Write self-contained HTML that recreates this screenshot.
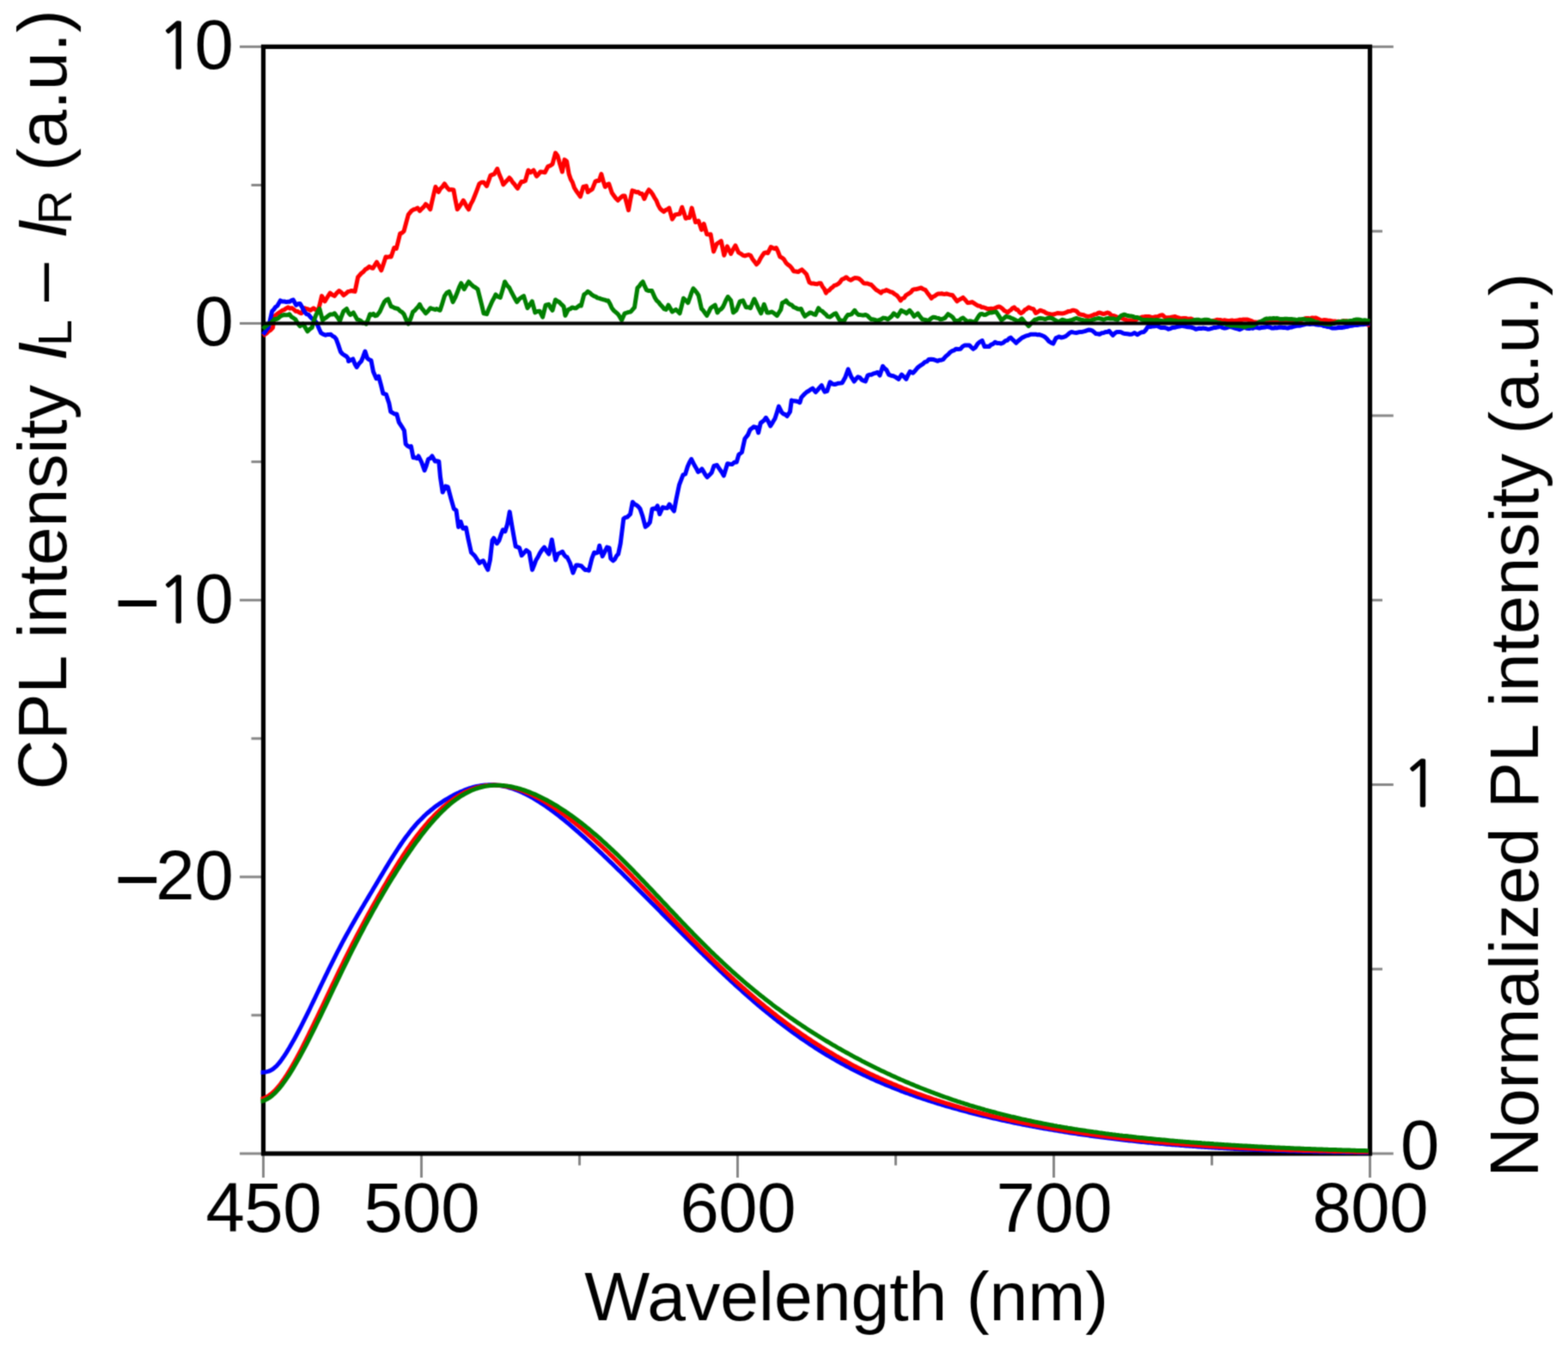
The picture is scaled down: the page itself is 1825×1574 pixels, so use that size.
<!DOCTYPE html>
<html lang="en">
<head>
<meta charset="utf-8">
<title>CPL and PL spectra</title>
<style>
html,body{margin:0;padding:0;background:#fff;}
body{width:1825px;height:1574px;overflow:hidden;}
svg{display:block;}
text{font-family:"Liberation Sans",Arial,Helvetica,sans-serif;font-size:80px;fill:#000;}
.c{fill:none;stroke-width:5.0;stroke-linejoin:round;stroke-linecap:butt;}
.t{stroke:#000;stroke-opacity:0.47;stroke-width:3.0;}
</style>
</head>
<body>
<svg xmlns="http://www.w3.org/2000/svg" width="1825" height="1574" viewBox="0 0 1825 1574">
<defs><filter id="soft" x="0" y="0" width="1825" height="1574" filterUnits="userSpaceOnUse" color-interpolation-filters="sRGB"><feConvolveMatrix order="3" kernelMatrix="1 3 1 3 9 3 1 3 1" divisor="25" edgeMode="duplicate" preserveAlpha="false"/></filter></defs>
<g filter="url(#soft)">
<rect x="0" y="0" width="1825" height="1574" fill="#fff"/>

<g class="t">
<line x1="279.0" y1="1343.0" x2="306.5" y2="1343.0"/>
<line x1="292.5" y1="1181.9" x2="306.5" y2="1181.9"/>
<line x1="279.0" y1="1020.9" x2="306.5" y2="1020.9"/>
<line x1="292.5" y1="859.8" x2="306.5" y2="859.8"/>
<line x1="279.0" y1="698.7" x2="306.5" y2="698.7"/>
<line x1="292.5" y1="537.6" x2="306.5" y2="537.6"/>
<line x1="279.0" y1="376.5" x2="306.5" y2="376.5"/>
<line x1="292.5" y1="215.5" x2="306.5" y2="215.5"/>
<line x1="279.0" y1="54.4" x2="306.5" y2="54.4"/>
<line x1="1594.5" y1="1343.0" x2="1621.8" y2="1343.0"/>
<line x1="1594.5" y1="1128.2" x2="1609.0" y2="1128.2"/>
<line x1="1594.5" y1="913.5" x2="1621.8" y2="913.5"/>
<line x1="1594.5" y1="698.7" x2="1609.0" y2="698.7"/>
<line x1="1594.5" y1="483.9" x2="1621.8" y2="483.9"/>
<line x1="1594.5" y1="269.2" x2="1609.0" y2="269.2"/>
<line x1="1594.5" y1="54.4" x2="1621.8" y2="54.4"/>
<line x1="306.5" y1="1343.0" x2="306.5" y2="1371.0"/>
<line x1="490.5" y1="1343.0" x2="490.5" y2="1371.0"/>
<line x1="674.5" y1="1343.0" x2="674.5" y2="1356.7"/>
<line x1="858.5" y1="1343.0" x2="858.5" y2="1371.0"/>
<line x1="1042.5" y1="1343.0" x2="1042.5" y2="1356.7"/>
<line x1="1226.5" y1="1343.0" x2="1226.5" y2="1371.0"/>
<line x1="1410.5" y1="1343.0" x2="1410.5" y2="1356.7"/>
<line x1="1594.5" y1="1343.0" x2="1594.5" y2="1371.0"/>
</g>
<rect x="306.5" y="54.4" width="1288.0" height="1288.6" fill="none" stroke="#000" stroke-width="5.2"/>
<path class="c" stroke="#0000ff" d="M303.6,1248.4 L304.8,1248.4 L306.8,1248.2 L308.8,1248.0 L310.8,1247.6 L312.8,1247.1 L314.8,1246.2 L316.8,1245.1 L318.8,1243.7 L320.8,1241.9 L322.8,1239.9 L324.8,1237.6 L326.8,1235.1 L328.8,1232.3 L330.8,1229.4 L332.8,1226.3 L334.8,1223.1 L336.8,1219.8 L338.8,1216.3 L340.8,1212.8 L342.8,1209.2 L344.8,1205.5 L346.8,1201.8 L348.8,1198.0 L350.8,1194.1 L352.8,1190.2 L354.8,1186.2 L356.8,1182.2 L358.8,1178.1 L360.8,1174.0 L362.8,1169.8 L364.8,1165.7 L366.8,1161.5 L368.8,1157.3 L370.8,1153.1 L372.8,1148.9 L374.8,1144.7 L376.8,1140.6 L378.8,1136.4 L380.8,1132.3 L382.8,1128.2 L384.8,1124.1 L386.8,1120.1 L388.8,1116.1 L390.8,1112.1 L392.8,1108.2 L394.8,1104.3 L396.8,1100.5 L398.8,1096.7 L400.8,1093.0 L402.8,1089.3 L404.8,1085.7 L406.8,1082.1 L408.8,1078.6 L410.8,1075.0 L412.8,1071.5 L414.8,1068.1 L416.8,1064.6 L418.8,1061.2 L420.8,1057.8 L422.8,1054.5 L424.8,1051.1 L426.8,1047.7 L428.8,1044.4 L430.8,1041.0 L432.8,1037.7 L434.8,1034.3 L436.8,1030.9 L438.8,1027.6 L440.8,1024.2 L442.8,1020.9 L444.8,1017.6 L446.8,1014.2 L448.8,1010.9 L450.8,1007.6 L452.8,1004.3 L454.8,1001.1 L456.8,997.9 L458.8,994.7 L460.8,991.6 L462.8,988.5 L464.8,985.5 L466.8,982.5 L468.8,979.6 L470.8,976.8 L472.8,974.0 L474.8,971.4 L476.8,968.8 L478.8,966.2 L480.8,963.8 L482.8,961.5 L484.8,959.2 L486.8,957.0 L488.8,954.9 L490.8,952.9 L492.8,950.9 L494.8,949.0 L496.8,947.2 L498.8,945.5 L500.8,943.8 L502.8,942.2 L504.8,940.6 L506.8,939.1 L508.8,937.6 L510.8,936.2 L512.8,934.9 L514.8,933.5 L516.8,932.2 L518.8,931.0 L520.8,929.8 L522.8,928.6 L524.8,927.5 L526.8,926.4 L528.8,925.3 L530.8,924.3 L532.8,923.4 L534.8,922.4 L536.8,921.5 L538.8,920.7 L540.8,919.9 L542.8,919.1 L544.8,918.4 L546.8,917.7 L548.8,917.1 L550.8,916.5 L552.8,916.0 L554.8,915.5 L556.8,915.1 L558.8,914.8 L560.8,914.4 L562.8,914.2 L564.8,914.0 L566.8,913.9 L568.8,913.8 L570.8,913.7 L572.8,913.8 L574.8,913.8 L576.8,914.0 L578.8,914.2 L580.8,914.4 L582.8,914.7 L584.8,915.1 L586.8,915.5 L588.8,915.9 L590.8,916.4 L592.8,917.0 L594.8,917.6 L596.8,918.2 L598.8,918.9 L600.8,919.7 L602.8,920.4 L604.8,921.3 L606.8,922.1 L608.8,923.1 L610.8,924.0 L612.8,925.0 L614.8,926.0 L616.8,927.1 L618.8,928.2 L620.8,929.4 L622.8,930.6 L624.8,931.8 L626.8,933.0 L628.8,934.3 L630.8,935.6 L632.8,936.9 L634.8,938.3 L636.8,939.7 L638.8,941.1 L640.8,942.6 L642.8,944.0 L644.8,945.5 L646.8,947.0 L648.8,948.6 L650.8,950.1 L652.8,951.7 L654.8,953.3 L656.8,954.9 L658.8,956.6 L660.8,958.2 L662.8,959.9 L664.8,961.6 L666.8,963.3 L668.8,965.1 L670.8,966.8 L672.8,968.5 L674.8,970.3 L676.8,972.1 L678.8,973.9 L680.8,975.7 L682.8,977.5 L684.8,979.3 L686.8,981.2 L688.8,983.0 L690.8,984.9 L692.8,986.7 L694.8,988.6 L696.8,990.5 L698.8,992.4 L700.8,994.3 L702.8,996.2 L704.8,998.1 L706.8,1000.0 L708.8,1002.0 L710.8,1003.9 L712.8,1005.8 L714.8,1007.8 L716.8,1009.7 L718.8,1011.7 L720.8,1013.6 L722.8,1015.6 L724.8,1017.6 L726.8,1019.6 L728.8,1021.5 L730.8,1023.5 L732.8,1025.5 L734.8,1027.5 L736.8,1029.5 L738.8,1031.5 L740.8,1033.5 L742.8,1035.5 L744.8,1037.5 L746.8,1039.5 L748.8,1041.5 L750.8,1043.5 L752.8,1045.5 L754.8,1047.5 L756.8,1049.5 L758.8,1051.6 L760.8,1053.6 L762.8,1055.6 L764.8,1057.6 L766.8,1059.6 L768.8,1061.6 L770.8,1063.7 L772.8,1065.7 L774.8,1067.7 L776.8,1069.7 L778.8,1071.7 L780.8,1073.7 L782.8,1075.7 L784.8,1077.8 L786.8,1079.8 L788.8,1081.8 L790.8,1083.8 L792.8,1085.8 L794.8,1087.8 L796.8,1089.8 L798.8,1091.8 L800.8,1093.8 L802.8,1095.8 L804.8,1097.8 L806.8,1099.8 L808.8,1101.7 L810.8,1103.7 L812.8,1105.7 L814.8,1107.7 L816.8,1109.6 L818.8,1111.6 L820.8,1113.5 L822.8,1115.5 L824.8,1117.4 L826.8,1119.4 L828.8,1121.3 L830.8,1123.2 L832.8,1125.1 L834.8,1127.0 L836.8,1129.0 L838.8,1130.9 L840.8,1132.7 L842.8,1134.6 L844.8,1136.5 L846.8,1138.4 L848.8,1140.2 L850.8,1142.1 L852.8,1143.9 L854.8,1145.8 L856.8,1147.6 L858.8,1149.4 L860.8,1151.2 L862.8,1153.0 L864.8,1154.8 L866.8,1156.6 L868.8,1158.4 L870.8,1160.1 L872.8,1161.9 L874.8,1163.6 L876.8,1165.3 L878.8,1167.1 L880.8,1168.8 L882.8,1170.5 L884.8,1172.2 L886.8,1173.8 L888.8,1175.5 L890.8,1177.1 L892.8,1178.8 L894.8,1180.4 L896.8,1182.0 L898.8,1183.6 L900.8,1185.2 L902.8,1186.8 L904.8,1188.4 L906.8,1189.9 L908.8,1191.5 L910.8,1193.0 L912.8,1194.5 L914.8,1196.0 L916.8,1197.5 L918.8,1199.0 L920.8,1200.5 L922.8,1202.0 L924.8,1203.4 L926.8,1204.8 L928.8,1206.3 L930.8,1207.7 L932.8,1209.1 L934.8,1210.4 L936.8,1211.8 L938.8,1213.2 L940.8,1214.5 L942.8,1215.9 L944.8,1217.2 L946.8,1218.5 L948.8,1219.8 L950.8,1221.1 L952.8,1222.3 L954.8,1223.6 L956.8,1224.8 L958.8,1226.1 L960.8,1227.3 L962.8,1228.5 L964.8,1229.7 L966.8,1230.9 L968.8,1232.0 L970.8,1233.2 L972.8,1234.4 L974.8,1235.5 L976.8,1236.6 L978.8,1237.7 L980.8,1238.8 L982.8,1239.9 L984.8,1241.0 L986.8,1242.1 L988.8,1243.1 L990.8,1244.2 L992.8,1245.2 L994.8,1246.2 L996.8,1247.2 L998.8,1248.2 L1000.8,1249.2 L1002.8,1250.2 L1004.8,1251.2 L1006.8,1252.1 L1008.8,1253.1 L1010.8,1254.0 L1012.8,1254.9 L1014.8,1255.9 L1016.8,1256.8 L1018.8,1257.7 L1020.8,1258.6 L1022.8,1259.4 L1024.8,1260.3 L1026.8,1261.2 L1028.8,1262.0 L1030.8,1262.9 L1032.8,1263.7 L1034.8,1264.5 L1036.8,1265.3 L1038.8,1266.2 L1040.8,1266.9 L1042.8,1267.7 L1044.8,1268.5 L1046.8,1269.3 L1048.8,1270.1 L1050.8,1270.8 L1052.8,1271.6 L1054.8,1272.3 L1056.8,1273.0 L1058.8,1273.8 L1060.8,1274.5 L1062.8,1275.2 L1064.8,1275.9 L1066.8,1276.6 L1068.8,1277.3 L1070.8,1278.0 L1072.8,1278.7 L1074.8,1279.3 L1076.8,1280.0 L1078.8,1280.7 L1080.8,1281.3 L1082.8,1281.9 L1084.8,1282.6 L1086.8,1283.2 L1088.8,1283.8 L1090.8,1284.5 L1092.8,1285.1 L1094.8,1285.7 L1096.8,1286.3 L1098.8,1286.9 L1100.8,1287.5 L1102.8,1288.1 L1104.8,1288.6 L1106.8,1289.2 L1108.8,1289.8 L1110.8,1290.3 L1112.8,1290.9 L1114.8,1291.4 L1116.8,1292.0 L1118.8,1292.5 L1120.8,1293.1 L1122.8,1293.6 L1124.8,1294.1 L1126.8,1294.7 L1128.8,1295.2 L1130.8,1295.7 L1132.8,1296.2 L1134.8,1296.7 L1136.8,1297.2 L1138.8,1297.7 L1140.8,1298.2 L1142.8,1298.7 L1144.8,1299.2 L1146.8,1299.6 L1148.8,1300.1 L1150.8,1300.6 L1152.8,1301.0 L1154.8,1301.5 L1156.8,1302.0 L1158.8,1302.4 L1160.8,1302.9 L1162.8,1303.3 L1164.8,1303.8 L1166.8,1304.2 L1168.8,1304.6 L1170.8,1305.1 L1172.8,1305.5 L1174.8,1305.9 L1176.8,1306.3 L1178.8,1306.8 L1180.8,1307.2 L1182.8,1307.6 L1184.8,1308.0 L1186.8,1308.4 L1188.8,1308.8 L1190.8,1309.2 L1192.8,1309.6 L1194.8,1310.0 L1196.8,1310.3 L1198.8,1310.7 L1200.8,1311.1 L1202.8,1311.5 L1204.8,1311.9 L1206.8,1312.2 L1208.8,1312.6 L1210.8,1313.0 L1212.8,1313.3 L1214.8,1313.7 L1216.8,1314.0 L1218.8,1314.4 L1220.8,1314.7 L1222.8,1315.1 L1224.8,1315.4 L1226.8,1315.7 L1228.8,1316.1 L1230.8,1316.4 L1232.8,1316.7 L1234.8,1317.1 L1236.8,1317.4 L1238.8,1317.7 L1240.8,1318.0 L1242.8,1318.3 L1244.8,1318.7 L1246.8,1319.0 L1248.8,1319.3 L1250.8,1319.6 L1252.8,1319.9 L1254.8,1320.2 L1256.8,1320.5 L1258.8,1320.8 L1260.8,1321.1 L1262.8,1321.3 L1264.8,1321.6 L1266.8,1321.9 L1268.8,1322.2 L1270.8,1322.5 L1272.8,1322.7 L1274.8,1323.0 L1276.8,1323.3 L1278.8,1323.5 L1280.8,1323.8 L1282.8,1324.1 L1284.8,1324.3 L1286.8,1324.6 L1288.8,1324.8 L1290.8,1325.1 L1292.8,1325.3 L1294.8,1325.6 L1296.8,1325.8 L1298.8,1326.1 L1300.8,1326.3 L1302.8,1326.5 L1304.8,1326.8 L1306.8,1327.0 L1308.8,1327.2 L1310.8,1327.4 L1312.8,1327.7 L1314.8,1327.9 L1316.8,1328.1 L1318.8,1328.3 L1320.8,1328.5 L1322.8,1328.7 L1324.8,1329.0 L1326.8,1329.2 L1328.8,1329.4 L1330.8,1329.6 L1332.8,1329.8 L1334.8,1330.0 L1336.8,1330.2 L1338.8,1330.3 L1340.8,1330.5 L1342.8,1330.7 L1344.8,1330.9 L1346.8,1331.1 L1348.8,1331.3 L1350.8,1331.5 L1352.8,1331.6 L1354.8,1331.8 L1356.8,1332.0 L1358.8,1332.2 L1360.8,1332.3 L1362.8,1332.5 L1364.8,1332.7 L1366.8,1332.8 L1368.8,1333.0 L1370.8,1333.1 L1372.8,1333.3 L1374.8,1333.5 L1376.8,1333.6 L1378.8,1333.8 L1380.8,1333.9 L1382.8,1334.1 L1384.8,1334.2 L1386.8,1334.3 L1388.8,1334.5 L1390.8,1334.6 L1392.8,1334.8 L1394.8,1334.9 L1396.8,1335.0 L1398.8,1335.2 L1400.8,1335.3 L1402.8,1335.4 L1404.8,1335.6 L1406.8,1335.7 L1408.8,1335.8 L1410.8,1335.9 L1412.8,1336.0 L1414.8,1336.2 L1416.8,1336.3 L1418.8,1336.4 L1420.8,1336.5 L1422.8,1336.6 L1424.8,1336.7 L1426.8,1336.8 L1428.8,1337.0 L1430.8,1337.1 L1432.8,1337.2 L1434.8,1337.3 L1436.8,1337.4 L1438.8,1337.5 L1440.8,1337.6 L1442.8,1337.7 L1444.8,1337.8 L1446.8,1337.9 L1448.8,1337.9 L1450.8,1338.0 L1452.8,1338.1 L1454.8,1338.2 L1456.8,1338.3 L1458.8,1338.4 L1460.8,1338.5 L1462.8,1338.6 L1464.8,1338.6 L1466.8,1338.7 L1468.8,1338.8 L1470.8,1338.9 L1472.8,1339.0 L1474.8,1339.0 L1476.8,1339.1 L1478.8,1339.2 L1480.8,1339.3 L1482.8,1339.3 L1484.8,1339.4 L1486.8,1339.5 L1488.8,1339.5 L1490.8,1339.6 L1492.8,1339.7 L1494.8,1339.7 L1496.8,1339.8 L1498.8,1339.9 L1500.8,1339.9 L1502.8,1340.0 L1504.8,1340.0 L1506.8,1340.1 L1508.8,1340.2 L1510.8,1340.2 L1512.8,1340.3 L1514.8,1340.3 L1516.8,1340.4 L1518.8,1340.4 L1520.8,1340.5 L1522.8,1340.5 L1524.8,1340.6 L1526.8,1340.6 L1528.8,1340.7 L1530.8,1340.7 L1532.8,1340.8 L1534.8,1340.8 L1536.8,1340.9 L1538.8,1340.9 L1540.8,1340.9 L1542.8,1341.0 L1544.8,1341.0 L1546.8,1341.1 L1548.8,1341.1 L1550.8,1341.2 L1552.8,1341.2 L1554.8,1341.2 L1556.8,1341.3 L1558.8,1341.3 L1560.8,1341.3 L1562.8,1341.4 L1564.8,1341.4 L1566.8,1341.4 L1568.8,1341.5 L1570.8,1341.5 L1572.8,1341.5 L1574.8,1341.6 L1576.8,1341.6 L1578.8,1341.6 L1580.8,1341.7 L1582.8,1341.7 L1584.8,1341.7 L1586.8,1341.7 L1588.8,1341.8 L1590.8,1341.8 L1592.8,1341.8"/>
<path class="c" stroke="#ff0000" d="M303.6,1279.5 L304.8,1279.4 L306.8,1278.7 L308.8,1277.9 L310.8,1276.8 L312.8,1275.6 L314.8,1274.1 L316.8,1272.5 L318.8,1270.7 L320.8,1268.6 L322.8,1266.4 L324.8,1264.0 L326.8,1261.5 L328.8,1258.8 L330.8,1256.0 L332.8,1253.0 L334.8,1249.8 L336.8,1246.6 L338.8,1243.2 L340.8,1239.8 L342.8,1236.3 L344.8,1232.6 L346.8,1228.9 L348.8,1225.1 L350.8,1221.3 L352.8,1217.4 L354.8,1213.4 L356.8,1209.4 L358.8,1205.3 L360.8,1201.2 L362.8,1197.2 L364.8,1193.1 L366.8,1188.9 L368.8,1184.8 L370.8,1180.6 L372.8,1176.4 L374.8,1172.2 L376.8,1168.0 L378.8,1163.7 L380.8,1159.5 L382.8,1155.3 L384.8,1151.1 L386.8,1146.9 L388.8,1142.7 L390.8,1138.5 L392.8,1134.3 L394.8,1130.2 L396.8,1126.0 L398.8,1122.0 L400.8,1117.9 L402.8,1113.8 L404.8,1109.8 L406.8,1105.8 L408.8,1101.9 L410.8,1098.0 L412.8,1094.1 L414.8,1090.2 L416.8,1086.4 L418.8,1082.6 L420.8,1078.8 L422.8,1075.1 L424.8,1071.4 L426.8,1067.7 L428.8,1064.0 L430.8,1060.4 L432.8,1056.8 L434.8,1053.2 L436.8,1049.7 L438.8,1046.1 L440.8,1042.6 L442.8,1039.2 L444.8,1035.7 L446.8,1032.3 L448.8,1028.9 L450.8,1025.5 L452.8,1022.1 L454.8,1018.8 L456.8,1015.5 L458.8,1012.2 L460.8,1009.0 L462.8,1005.8 L464.8,1002.6 L466.8,999.5 L468.8,996.4 L470.8,993.4 L472.8,990.4 L474.8,987.4 L476.8,984.6 L478.8,981.7 L480.8,979.0 L482.8,976.2 L484.8,973.6 L486.8,971.0 L488.8,968.4 L490.8,965.9 L492.8,963.5 L494.8,961.1 L496.8,958.8 L498.8,956.5 L500.8,954.3 L502.8,952.2 L504.8,950.1 L506.8,948.1 L508.8,946.1 L510.8,944.2 L512.8,942.3 L514.8,940.5 L516.8,938.8 L518.8,937.1 L520.8,935.5 L522.8,934.0 L524.8,932.5 L526.8,931.0 L528.8,929.6 L530.8,928.3 L532.8,927.0 L534.8,925.8 L536.8,924.7 L538.8,923.6 L540.8,922.5 L542.8,921.6 L544.8,920.7 L546.8,919.8 L548.8,919.0 L550.8,918.3 L552.8,917.6 L554.8,917.0 L556.8,916.5 L558.8,916.0 L560.8,915.5 L562.8,915.2 L564.8,914.8 L566.8,914.6 L568.8,914.4 L570.8,914.2 L572.8,914.1 L574.8,914.1 L576.8,914.1 L578.8,914.2 L580.8,914.3 L582.8,914.5 L584.8,914.7 L586.8,915.0 L588.8,915.3 L590.8,915.7 L592.8,916.1 L594.8,916.5 L596.8,917.0 L598.8,917.6 L600.8,918.2 L602.8,918.8 L604.8,919.5 L606.8,920.2 L608.8,921.0 L610.8,921.7 L612.8,922.6 L614.8,923.4 L616.8,924.3 L618.8,925.3 L620.8,926.2 L622.8,927.2 L624.8,928.3 L626.8,929.3 L628.8,930.4 L630.8,931.5 L632.8,932.7 L634.8,933.9 L636.8,935.1 L638.8,936.3 L640.8,937.6 L642.8,938.9 L644.8,940.2 L646.8,941.5 L648.8,942.9 L650.8,944.3 L652.8,945.7 L654.8,947.1 L656.8,948.6 L658.8,950.1 L660.8,951.6 L662.8,953.1 L664.8,954.7 L666.8,956.3 L668.8,957.9 L670.8,959.5 L672.8,961.1 L674.8,962.8 L676.8,964.4 L678.8,966.1 L680.8,967.8 L682.8,969.6 L684.8,971.3 L686.8,973.1 L688.8,974.9 L690.8,976.7 L692.8,978.5 L694.8,980.3 L696.8,982.1 L698.8,984.0 L700.8,985.8 L702.8,987.7 L704.8,989.6 L706.8,991.5 L708.8,993.4 L710.8,995.4 L712.8,997.3 L714.8,999.3 L716.8,1001.2 L718.8,1003.2 L720.8,1005.2 L722.8,1007.2 L724.8,1009.2 L726.8,1011.2 L728.8,1013.2 L730.8,1015.2 L732.8,1017.3 L734.8,1019.3 L736.8,1021.4 L738.8,1023.4 L740.8,1025.5 L742.8,1027.5 L744.8,1029.6 L746.8,1031.7 L748.8,1033.8 L750.8,1035.9 L752.8,1038.0 L754.8,1040.0 L756.8,1042.1 L758.8,1044.2 L760.8,1046.3 L762.8,1048.4 L764.8,1050.5 L766.8,1052.6 L768.8,1054.7 L770.8,1056.8 L772.8,1058.9 L774.8,1061.0 L776.8,1063.1 L778.8,1065.2 L780.8,1067.3 L782.8,1069.4 L784.8,1071.5 L786.8,1073.6 L788.8,1075.7 L790.8,1077.8 L792.8,1079.8 L794.8,1081.9 L796.8,1084.0 L798.8,1086.1 L800.8,1088.1 L802.8,1090.2 L804.8,1092.2 L806.8,1094.3 L808.8,1096.3 L810.8,1098.3 L812.8,1100.3 L814.8,1102.4 L816.8,1104.4 L818.8,1106.4 L820.8,1108.4 L822.8,1110.4 L824.8,1112.3 L826.8,1114.3 L828.8,1116.3 L830.8,1118.2 L832.8,1120.2 L834.8,1122.1 L836.8,1124.1 L838.8,1126.0 L840.8,1127.9 L842.8,1129.8 L844.8,1131.7 L846.8,1133.6 L848.8,1135.4 L850.8,1137.3 L852.8,1139.1 L854.8,1141.0 L856.8,1142.8 L858.8,1144.6 L860.8,1146.4 L862.8,1148.2 L864.8,1150.0 L866.8,1151.7 L868.8,1153.5 L870.8,1155.2 L872.8,1157.0 L874.8,1158.7 L876.8,1160.4 L878.8,1162.1 L880.8,1163.8 L882.8,1165.5 L884.8,1167.1 L886.8,1168.8 L888.8,1170.4 L890.8,1172.1 L892.8,1173.7 L894.8,1175.3 L896.8,1176.9 L898.8,1178.5 L900.8,1180.1 L902.8,1181.6 L904.8,1183.2 L906.8,1184.7 L908.8,1186.2 L910.8,1187.8 L912.8,1189.3 L914.8,1190.8 L916.8,1192.2 L918.8,1193.7 L920.8,1195.2 L922.8,1196.6 L924.8,1198.1 L926.8,1199.5 L928.8,1200.9 L930.8,1202.3 L932.8,1203.7 L934.8,1205.1 L936.8,1206.4 L938.8,1207.8 L940.8,1209.1 L942.8,1210.4 L944.8,1211.8 L946.8,1213.1 L948.8,1214.4 L950.8,1215.7 L952.8,1216.9 L954.8,1218.2 L956.8,1219.5 L958.8,1220.7 L960.8,1221.9 L962.8,1223.1 L964.8,1224.4 L966.8,1225.5 L968.8,1226.7 L970.8,1227.9 L972.8,1229.1 L974.8,1230.2 L976.8,1231.4 L978.8,1232.5 L980.8,1233.6 L982.8,1234.7 L984.8,1235.8 L986.8,1236.9 L988.8,1238.0 L990.8,1239.1 L992.8,1240.2 L994.8,1241.2 L996.8,1242.3 L998.8,1243.3 L1000.8,1244.3 L1002.8,1245.3 L1004.8,1246.3 L1006.8,1247.3 L1008.8,1248.2 L1010.8,1249.2 L1012.8,1250.2 L1014.8,1251.1 L1016.8,1252.0 L1018.8,1253.0 L1020.8,1253.9 L1022.8,1254.8 L1024.8,1255.7 L1026.8,1256.6 L1028.8,1257.5 L1030.8,1258.4 L1032.8,1259.2 L1034.8,1260.1 L1036.8,1260.9 L1038.8,1261.8 L1040.8,1262.6 L1042.8,1263.4 L1044.8,1264.3 L1046.8,1265.1 L1048.8,1265.9 L1050.8,1266.7 L1052.8,1267.5 L1054.8,1268.2 L1056.8,1269.0 L1058.8,1269.8 L1060.8,1270.5 L1062.8,1271.3 L1064.8,1272.0 L1066.8,1272.8 L1068.8,1273.5 L1070.8,1274.2 L1072.8,1274.9 L1074.8,1275.6 L1076.8,1276.3 L1078.8,1277.0 L1080.8,1277.7 L1082.8,1278.4 L1084.8,1279.1 L1086.8,1279.8 L1088.8,1280.4 L1090.8,1281.1 L1092.8,1281.7 L1094.8,1282.4 L1096.8,1283.0 L1098.8,1283.7 L1100.8,1284.3 L1102.8,1284.9 L1104.8,1285.5 L1106.8,1286.1 L1108.8,1286.7 L1110.8,1287.3 L1112.8,1287.9 L1114.8,1288.5 L1116.8,1289.1 L1118.8,1289.7 L1120.8,1290.2 L1122.8,1290.8 L1124.8,1291.4 L1126.8,1291.9 L1128.8,1292.5 L1130.8,1293.0 L1132.8,1293.6 L1134.8,1294.1 L1136.8,1294.6 L1138.8,1295.2 L1140.8,1295.7 L1142.8,1296.2 L1144.8,1296.7 L1146.8,1297.2 L1148.8,1297.7 L1150.8,1298.2 L1152.8,1298.7 L1154.8,1299.2 L1156.8,1299.7 L1158.8,1300.1 L1160.8,1300.6 L1162.8,1301.1 L1164.8,1301.6 L1166.8,1302.0 L1168.8,1302.5 L1170.8,1302.9 L1172.8,1303.4 L1174.8,1303.8 L1176.8,1304.3 L1178.8,1304.7 L1180.8,1305.1 L1182.8,1305.6 L1184.8,1306.0 L1186.8,1306.4 L1188.8,1306.8 L1190.8,1307.2 L1192.8,1307.6 L1194.8,1308.0 L1196.8,1308.4 L1198.8,1308.8 L1200.8,1309.2 L1202.8,1309.6 L1204.8,1310.0 L1206.8,1310.4 L1208.8,1310.8 L1210.8,1311.1 L1212.8,1311.5 L1214.8,1311.9 L1216.8,1312.3 L1218.8,1312.6 L1220.8,1313.0 L1222.8,1313.3 L1224.8,1313.7 L1226.8,1314.0 L1228.8,1314.4 L1230.8,1314.7 L1232.8,1315.0 L1234.8,1315.4 L1236.8,1315.7 L1238.8,1316.0 L1240.8,1316.4 L1242.8,1316.7 L1244.8,1317.0 L1246.8,1317.3 L1248.8,1317.6 L1250.8,1317.9 L1252.8,1318.2 L1254.8,1318.5 L1256.8,1318.8 L1258.8,1319.1 L1260.8,1319.4 L1262.8,1319.7 L1264.8,1320.0 L1266.8,1320.3 L1268.8,1320.6 L1270.8,1320.9 L1272.8,1321.1 L1274.8,1321.4 L1276.8,1321.7 L1278.8,1322.0 L1280.8,1322.2 L1282.8,1322.5 L1284.8,1322.7 L1286.8,1323.0 L1288.8,1323.3 L1290.8,1323.5 L1292.8,1323.8 L1294.8,1324.0 L1296.8,1324.3 L1298.8,1324.5 L1300.8,1324.7 L1302.8,1325.0 L1304.8,1325.2 L1306.8,1325.4 L1308.8,1325.7 L1310.8,1325.9 L1312.8,1326.1 L1314.8,1326.3 L1316.8,1326.6 L1318.8,1326.8 L1320.8,1327.0 L1322.8,1327.2 L1324.8,1327.4 L1326.8,1327.6 L1328.8,1327.8 L1330.8,1328.0 L1332.8,1328.2 L1334.8,1328.4 L1336.8,1328.6 L1338.8,1328.8 L1340.8,1329.0 L1342.8,1329.2 L1344.8,1329.4 L1346.8,1329.6 L1348.8,1329.8 L1350.8,1330.0 L1352.8,1330.1 L1354.8,1330.3 L1356.8,1330.5 L1358.8,1330.7 L1360.8,1330.8 L1362.8,1331.0 L1364.8,1331.2 L1366.8,1331.3 L1368.8,1331.5 L1370.8,1331.7 L1372.8,1331.8 L1374.8,1332.0 L1376.8,1332.2 L1378.8,1332.3 L1380.8,1332.5 L1382.8,1332.6 L1384.8,1332.8 L1386.8,1332.9 L1388.8,1333.1 L1390.8,1333.2 L1392.8,1333.3 L1394.8,1333.5 L1396.8,1333.6 L1398.8,1333.8 L1400.8,1333.9 L1402.8,1334.0 L1404.8,1334.2 L1406.8,1334.3 L1408.8,1334.4 L1410.8,1334.5 L1412.8,1334.7 L1414.8,1334.8 L1416.8,1334.9 L1418.8,1335.0 L1420.8,1335.2 L1422.8,1335.3 L1424.8,1335.4 L1426.8,1335.5 L1428.8,1335.6 L1430.8,1335.7 L1432.8,1335.9 L1434.8,1336.0 L1436.8,1336.1 L1438.8,1336.2 L1440.8,1336.3 L1442.8,1336.4 L1444.8,1336.5 L1446.8,1336.6 L1448.8,1336.7 L1450.8,1336.8 L1452.8,1336.9 L1454.8,1337.0 L1456.8,1337.1 L1458.8,1337.2 L1460.8,1337.3 L1462.8,1337.4 L1464.8,1337.4 L1466.8,1337.5 L1468.8,1337.6 L1470.8,1337.7 L1472.8,1337.8 L1474.8,1337.9 L1476.8,1338.0 L1478.8,1338.0 L1480.8,1338.1 L1482.8,1338.2 L1484.8,1338.3 L1486.8,1338.4 L1488.8,1338.4 L1490.8,1338.5 L1492.8,1338.6 L1494.8,1338.6 L1496.8,1338.7 L1498.8,1338.8 L1500.8,1338.9 L1502.8,1338.9 L1504.8,1339.0 L1506.8,1339.1 L1508.8,1339.1 L1510.8,1339.2 L1512.8,1339.3 L1514.8,1339.3 L1516.8,1339.4 L1518.8,1339.4 L1520.8,1339.5 L1522.8,1339.6 L1524.8,1339.6 L1526.8,1339.7 L1528.8,1339.7 L1530.8,1339.8 L1532.8,1339.8 L1534.8,1339.9 L1536.8,1340.0 L1538.8,1340.0 L1540.8,1340.1 L1542.8,1340.1 L1544.8,1340.2 L1546.8,1340.2 L1548.8,1340.3 L1550.8,1340.3 L1552.8,1340.4 L1554.8,1340.4 L1556.8,1340.4 L1558.8,1340.5 L1560.8,1340.5 L1562.8,1340.6 L1564.8,1340.6 L1566.8,1340.7 L1568.8,1340.7 L1570.8,1340.7 L1572.8,1340.8 L1574.8,1340.8 L1576.8,1340.9 L1578.8,1340.9 L1580.8,1340.9 L1582.8,1341.0 L1584.8,1341.0 L1586.8,1341.1 L1588.8,1341.1 L1590.8,1341.1 L1592.8,1341.2"/>
<path class="c" stroke="#008000" d="M303.6,1282.0 L304.8,1282.0 L306.8,1281.4 L308.8,1280.6 L310.8,1279.6 L312.8,1278.4 L314.8,1277.1 L316.8,1275.5 L318.8,1273.7 L320.8,1271.7 L322.8,1269.6 L324.8,1267.4 L326.8,1264.9 L328.8,1262.4 L330.8,1259.6 L332.8,1256.8 L334.8,1253.9 L336.8,1250.8 L338.8,1247.6 L340.8,1244.4 L342.8,1241.0 L344.8,1237.6 L346.8,1234.1 L348.8,1230.5 L350.8,1226.8 L352.8,1223.1 L354.8,1219.3 L356.8,1215.5 L358.8,1211.6 L360.8,1207.6 L362.8,1203.7 L364.8,1199.6 L366.8,1195.6 L368.8,1191.5 L370.8,1187.4 L372.8,1183.3 L374.8,1179.1 L376.8,1174.9 L378.8,1170.8 L380.8,1166.6 L382.8,1162.4 L384.8,1158.2 L386.8,1154.0 L388.8,1149.8 L390.8,1145.6 L392.8,1141.4 L394.8,1137.3 L396.8,1133.1 L398.8,1129.0 L400.8,1124.9 L402.8,1120.8 L404.8,1116.8 L406.8,1112.7 L408.8,1108.7 L410.8,1104.7 L412.8,1100.8 L414.8,1096.9 L416.8,1093.0 L418.8,1089.1 L420.8,1085.3 L422.8,1081.5 L424.8,1077.7 L426.8,1074.0 L428.8,1070.3 L430.8,1066.7 L432.8,1063.0 L434.8,1059.4 L436.8,1055.9 L438.8,1052.3 L440.8,1048.8 L442.8,1045.4 L444.8,1041.9 L446.8,1038.5 L448.8,1035.2 L450.8,1031.8 L452.8,1028.5 L454.8,1025.2 L456.8,1022.0 L458.8,1018.8 L460.8,1015.6 L462.8,1012.5 L464.8,1009.3 L466.8,1006.2 L468.8,1003.2 L470.8,1000.2 L472.8,997.2 L474.8,994.3 L476.8,991.3 L478.8,988.5 L480.8,985.6 L482.8,982.8 L484.8,980.1 L486.8,977.4 L488.8,974.7 L490.8,972.1 L492.8,969.5 L494.8,967.0 L496.8,964.5 L498.8,962.0 L500.8,959.7 L502.8,957.3 L504.8,955.0 L506.8,952.8 L508.8,950.7 L510.8,948.5 L512.8,946.5 L514.8,944.5 L516.8,942.6 L518.8,940.7 L520.8,938.9 L522.8,937.1 L524.8,935.4 L526.8,933.8 L528.8,932.3 L530.8,930.8 L532.8,929.4 L534.8,928.0 L536.8,926.7 L538.8,925.5 L540.8,924.3 L542.8,923.2 L544.8,922.2 L546.8,921.2 L548.8,920.3 L550.8,919.5 L552.8,918.7 L554.8,918.0 L556.8,917.4 L558.8,916.8 L560.8,916.3 L562.8,915.8 L564.8,915.4 L566.8,915.1 L568.8,914.8 L570.8,914.6 L572.8,914.4 L574.8,914.3 L576.8,914.2 L578.8,914.2 L580.8,914.2 L582.8,914.3 L584.8,914.4 L586.8,914.6 L588.8,914.9 L590.8,915.1 L592.8,915.4 L594.8,915.8 L596.8,916.2 L598.8,916.7 L600.8,917.1 L602.8,917.7 L604.8,918.2 L606.8,918.8 L608.8,919.5 L610.8,920.1 L612.8,920.9 L614.8,921.6 L616.8,922.4 L618.8,923.2 L620.8,924.0 L622.8,924.9 L624.8,925.8 L626.8,926.7 L628.8,927.7 L630.8,928.7 L632.8,929.7 L634.8,930.7 L636.8,931.8 L638.8,932.9 L640.8,934.0 L642.8,935.1 L644.8,936.3 L646.8,937.5 L648.8,938.7 L650.8,940.0 L652.8,941.3 L654.8,942.6 L656.8,943.9 L658.8,945.2 L660.8,946.6 L662.8,948.0 L664.8,949.4 L666.8,950.8 L668.8,952.3 L670.8,953.8 L672.8,955.3 L674.8,956.8 L676.8,958.3 L678.8,959.9 L680.8,961.5 L682.8,963.1 L684.8,964.7 L686.8,966.4 L688.8,968.1 L690.8,969.8 L692.8,971.5 L694.8,973.2 L696.8,974.9 L698.8,976.7 L700.8,978.5 L702.8,980.3 L704.8,982.1 L706.8,984.0 L708.8,985.8 L710.8,987.7 L712.8,989.6 L714.8,991.5 L716.8,993.4 L718.8,995.3 L720.8,997.3 L722.8,999.2 L724.8,1001.2 L726.8,1003.2 L728.8,1005.2 L730.8,1007.2 L732.8,1009.2 L734.8,1011.3 L736.8,1013.3 L738.8,1015.4 L740.8,1017.4 L742.8,1019.5 L744.8,1021.6 L746.8,1023.7 L748.8,1025.8 L750.8,1027.9 L752.8,1030.0 L754.8,1032.1 L756.8,1034.2 L758.8,1036.3 L760.8,1038.4 L762.8,1040.6 L764.8,1042.7 L766.8,1044.8 L768.8,1046.9 L770.8,1049.1 L772.8,1051.2 L774.8,1053.3 L776.8,1055.4 L778.8,1057.6 L780.8,1059.7 L782.8,1061.8 L784.8,1063.9 L786.8,1066.0 L788.8,1068.2 L790.8,1070.3 L792.8,1072.4 L794.8,1074.5 L796.8,1076.5 L798.8,1078.6 L800.8,1080.7 L802.8,1082.8 L804.8,1084.8 L806.8,1086.9 L808.8,1088.9 L810.8,1091.0 L812.8,1093.0 L814.8,1095.0 L816.8,1097.0 L818.8,1099.0 L820.8,1101.0 L822.8,1103.0 L824.8,1104.9 L826.8,1106.9 L828.8,1108.9 L830.8,1110.8 L832.8,1112.7 L834.8,1114.6 L836.8,1116.5 L838.8,1118.4 L840.8,1120.3 L842.8,1122.2 L844.8,1124.0 L846.8,1125.9 L848.8,1127.7 L850.8,1129.5 L852.8,1131.3 L854.8,1133.1 L856.8,1134.9 L858.8,1136.6 L860.8,1138.4 L862.8,1140.1 L864.8,1141.9 L866.8,1143.6 L868.8,1145.3 L870.8,1147.0 L872.8,1148.7 L874.8,1150.3 L876.8,1152.0 L878.8,1153.6 L880.8,1155.2 L882.8,1156.9 L884.8,1158.5 L886.8,1160.1 L888.8,1161.6 L890.8,1163.2 L892.8,1164.8 L894.8,1166.3 L896.8,1167.8 L898.8,1169.4 L900.8,1170.9 L902.8,1172.4 L904.8,1173.9 L906.8,1175.3 L908.8,1176.8 L910.8,1178.3 L912.8,1179.7 L914.8,1181.1 L916.8,1182.5 L918.8,1184.0 L920.8,1185.4 L922.8,1186.7 L924.8,1188.1 L926.8,1189.5 L928.8,1190.9 L930.8,1192.2 L932.8,1193.5 L934.8,1194.9 L936.8,1196.2 L938.8,1197.5 L940.8,1198.8 L942.8,1200.1 L944.8,1201.4 L946.8,1202.7 L948.8,1203.9 L950.8,1205.2 L952.8,1206.4 L954.8,1207.7 L956.8,1208.9 L958.8,1210.1 L960.8,1211.3 L962.8,1212.5 L964.8,1213.7 L966.8,1214.9 L968.8,1216.1 L970.8,1217.2 L972.8,1218.4 L974.8,1219.6 L976.8,1220.7 L978.8,1221.8 L980.8,1223.0 L982.8,1224.1 L984.8,1225.2 L986.8,1226.3 L988.8,1227.4 L990.8,1228.5 L992.8,1229.6 L994.8,1230.7 L996.8,1231.7 L998.8,1232.8 L1000.8,1233.8 L1002.8,1234.9 L1004.8,1235.9 L1006.8,1237.0 L1008.8,1238.0 L1010.8,1239.0 L1012.8,1240.0 L1014.8,1241.0 L1016.8,1242.0 L1018.8,1243.0 L1020.8,1244.0 L1022.8,1244.9 L1024.8,1245.9 L1026.8,1246.9 L1028.8,1247.8 L1030.8,1248.8 L1032.8,1249.7 L1034.8,1250.6 L1036.8,1251.6 L1038.8,1252.5 L1040.8,1253.4 L1042.8,1254.3 L1044.8,1255.2 L1046.8,1256.1 L1048.8,1257.0 L1050.8,1257.8 L1052.8,1258.7 L1054.8,1259.6 L1056.8,1260.4 L1058.8,1261.3 L1060.8,1262.1 L1062.8,1262.9 L1064.8,1263.8 L1066.8,1264.6 L1068.8,1265.4 L1070.8,1266.2 L1072.8,1267.0 L1074.8,1267.8 L1076.8,1268.6 L1078.8,1269.4 L1080.8,1270.1 L1082.8,1270.9 L1084.8,1271.7 L1086.8,1272.4 L1088.8,1273.2 L1090.8,1273.9 L1092.8,1274.6 L1094.8,1275.4 L1096.8,1276.1 L1098.8,1276.8 L1100.8,1277.5 L1102.8,1278.2 L1104.8,1278.9 L1106.8,1279.6 L1108.8,1280.3 L1110.8,1281.0 L1112.8,1281.6 L1114.8,1282.3 L1116.8,1282.9 L1118.8,1283.6 L1120.8,1284.2 L1122.8,1284.9 L1124.8,1285.5 L1126.8,1286.1 L1128.8,1286.8 L1130.8,1287.4 L1132.8,1288.0 L1134.8,1288.6 L1136.8,1289.2 L1138.8,1289.8 L1140.8,1290.3 L1142.8,1290.9 L1144.8,1291.5 L1146.8,1292.1 L1148.8,1292.6 L1150.8,1293.2 L1152.8,1293.7 L1154.8,1294.3 L1156.8,1294.8 L1158.8,1295.3 L1160.8,1295.9 L1162.8,1296.4 L1164.8,1296.9 L1166.8,1297.4 L1168.8,1297.9 L1170.8,1298.4 L1172.8,1298.9 L1174.8,1299.4 L1176.8,1299.9 L1178.8,1300.3 L1180.8,1300.8 L1182.8,1301.3 L1184.8,1301.7 L1186.8,1302.2 L1188.8,1302.7 L1190.8,1303.1 L1192.8,1303.5 L1194.8,1304.0 L1196.8,1304.4 L1198.8,1304.8 L1200.8,1305.3 L1202.8,1305.7 L1204.8,1306.1 L1206.8,1306.5 L1208.8,1306.9 L1210.8,1307.3 L1212.8,1307.7 L1214.8,1308.1 L1216.8,1308.5 L1218.8,1308.9 L1220.8,1309.3 L1222.8,1309.6 L1224.8,1310.0 L1226.8,1310.4 L1228.8,1310.7 L1230.8,1311.1 L1232.8,1311.4 L1234.8,1311.8 L1236.8,1312.1 L1238.8,1312.5 L1240.8,1312.8 L1242.8,1313.2 L1244.8,1313.5 L1246.8,1313.8 L1248.8,1314.1 L1250.8,1314.5 L1252.8,1314.8 L1254.8,1315.1 L1256.8,1315.4 L1258.8,1315.7 L1260.8,1316.0 L1262.8,1316.3 L1264.8,1316.6 L1266.8,1316.9 L1268.8,1317.2 L1270.8,1317.5 L1272.8,1317.8 L1274.8,1318.0 L1276.8,1318.3 L1278.8,1318.6 L1280.8,1318.9 L1282.8,1319.1 L1284.8,1319.4 L1286.8,1319.7 L1288.8,1319.9 L1290.8,1320.2 L1292.8,1320.4 L1294.8,1320.7 L1296.8,1320.9 L1298.8,1321.2 L1300.8,1321.4 L1302.8,1321.7 L1304.8,1321.9 L1306.8,1322.2 L1308.8,1322.4 L1310.8,1322.6 L1312.8,1322.8 L1314.8,1323.1 L1316.8,1323.3 L1318.8,1323.5 L1320.8,1323.7 L1322.8,1324.0 L1324.8,1324.2 L1326.8,1324.4 L1328.8,1324.6 L1330.8,1324.8 L1332.8,1325.0 L1334.8,1325.2 L1336.8,1325.4 L1338.8,1325.6 L1340.8,1325.8 L1342.8,1326.0 L1344.8,1326.2 L1346.8,1326.4 L1348.8,1326.6 L1350.8,1326.8 L1352.8,1327.0 L1354.8,1327.1 L1356.8,1327.3 L1358.8,1327.5 L1360.8,1327.7 L1362.8,1327.9 L1364.8,1328.0 L1366.8,1328.2 L1368.8,1328.4 L1370.8,1328.6 L1372.8,1328.7 L1374.8,1328.9 L1376.8,1329.1 L1378.8,1329.2 L1380.8,1329.4 L1382.8,1329.5 L1384.8,1329.7 L1386.8,1329.9 L1388.8,1330.0 L1390.8,1330.2 L1392.8,1330.3 L1394.8,1330.5 L1396.8,1330.6 L1398.8,1330.8 L1400.8,1330.9 L1402.8,1331.1 L1404.8,1331.2 L1406.8,1331.3 L1408.8,1331.5 L1410.8,1331.6 L1412.8,1331.8 L1414.8,1331.9 L1416.8,1332.0 L1418.8,1332.2 L1420.8,1332.3 L1422.8,1332.4 L1424.8,1332.6 L1426.8,1332.7 L1428.8,1332.8 L1430.8,1332.9 L1432.8,1333.1 L1434.8,1333.2 L1436.8,1333.3 L1438.8,1333.4 L1440.8,1333.5 L1442.8,1333.7 L1444.8,1333.8 L1446.8,1333.9 L1448.8,1334.0 L1450.8,1334.1 L1452.8,1334.2 L1454.8,1334.3 L1456.8,1334.5 L1458.8,1334.6 L1460.8,1334.7 L1462.8,1334.8 L1464.8,1334.9 L1466.8,1335.0 L1468.8,1335.1 L1470.8,1335.2 L1472.8,1335.3 L1474.8,1335.4 L1476.8,1335.5 L1478.8,1335.6 L1480.8,1335.7 L1482.8,1335.8 L1484.8,1335.9 L1486.8,1336.0 L1488.8,1336.1 L1490.8,1336.2 L1492.8,1336.3 L1494.8,1336.3 L1496.8,1336.4 L1498.8,1336.5 L1500.8,1336.6 L1502.8,1336.7 L1504.8,1336.8 L1506.8,1336.9 L1508.8,1337.0 L1510.8,1337.0 L1512.8,1337.1 L1514.8,1337.2 L1516.8,1337.3 L1518.8,1337.4 L1520.8,1337.4 L1522.8,1337.5 L1524.8,1337.6 L1526.8,1337.7 L1528.8,1337.7 L1530.8,1337.8 L1532.8,1337.9 L1534.8,1338.0 L1536.8,1338.0 L1538.8,1338.1 L1540.8,1338.2 L1542.8,1338.2 L1544.8,1338.3 L1546.8,1338.4 L1548.8,1338.4 L1550.8,1338.5 L1552.8,1338.6 L1554.8,1338.6 L1556.8,1338.7 L1558.8,1338.8 L1560.8,1338.8 L1562.8,1338.9 L1564.8,1339.0 L1566.8,1339.0 L1568.8,1339.1 L1570.8,1339.1 L1572.8,1339.2 L1574.8,1339.2 L1576.8,1339.3 L1578.8,1339.4 L1580.8,1339.4 L1582.8,1339.5 L1584.8,1339.5 L1586.8,1339.6 L1588.8,1339.6 L1590.8,1339.7 L1592.8,1339.7"/>
<path class="c" stroke="#ff0000" d="M306.1,391.1 L308.2,389.4 L310.2,388.2 L312.3,385.8 L314.9,384.3 L317.5,381.5 L319.3,368.3 L321.6,366.3 L324.0,364.6 L326.3,363.0 L328.5,361.4 L330.7,360.7 L332.9,359.1 L335.1,357.8 L337.4,359.0 L339.8,358.6 L342.1,360.4 L344.3,362.3 L346.5,362.6 L348.6,364.0 L350.8,364.8 L354.4,358.7 L356.7,359.5 L359.1,360.2 L361.4,361.3 L364.9,358.7 L367.5,360.7 L370.1,362.2 L372.3,353.8 L374.5,344.6 L378.0,350.8 L380.1,347.5 L382.1,344.3 L384.2,341.1 L386.8,343.2 L389.4,344.6 L392.0,341.1 L394.7,338.5 L397.3,340.4 L399.9,343.8 L402.5,341.8 L405.2,339.4 L407.2,339.1 L409.1,338.4 L411.1,339.0 L413.1,339.4 L416.6,322.7 L418.6,320.4 L420.7,318.0 L422.7,316.6 L425.1,313.8 L427.4,312.5 L429.8,310.4 L432.0,311.7 L434.1,312.2 L436.3,308.6 L438.5,305.2 L441.1,309.6 L443.8,314.8 L446.4,307.1 L449.0,299.0 L451.1,299.4 L453.1,298.8 L455.2,299.0 L458.7,288.5 L461.3,289.4 L463.5,280.9 L465.7,271.9 L467.9,271.1 L470.1,269.2 L472.7,259.4 L475.3,249.9 L478.8,245.6 L481.2,244.0 L483.5,243.4 L485.9,242.1 L488.5,245.6 L490.8,243.1 L493.2,240.9 L495.5,237.7 L498.1,240.1 L500.8,243.8 L502.8,234.7 L504.9,225.8 L506.9,217.5 L510.4,223.6 L512.7,219.5 L515.1,217.3 L517.4,214.0 L520.0,217.8 L522.7,221.0 L525.3,220.6 L527.9,221.0 L530.1,233.1 L532.3,243.8 L534.6,240.7 L537.0,237.1 L539.3,233.3 L541.4,237.0 L543.4,240.8 L545.5,243.8 L547.8,237.9 L550.2,233.6 L552.5,228.0 L555.1,221.3 L557.8,214.0 L560.4,212.2 L563.0,212.2 L566.5,216.6 L568.7,210.7 L570.9,204.4 L573.1,203.4 L575.3,202.6 L578.8,196.5 L581.1,203.0 L583.5,208.5 L585.8,214.9 L588.1,212.3 L590.5,209.8 L592.8,207.0 L594.7,209.0 L596.7,212.2 L598.6,214.3 L600.6,217.1 L602.5,219.3 L604.8,215.1 L607.0,211.4 L609.2,211.5 L611.4,210.5 L614.9,198.2 L617.5,200.8 L621.0,198.2 L624.5,205.2 L626.7,202.9 L628.9,200.0 L631.5,200.3 L634.2,200.8 L637.7,193.8 L640.4,192.8 L643.0,191.2 L646.5,178.1 L649.1,181.6 L651.8,191.4 L654.4,200.0 L657.0,185.9 L659.6,187.7 L662.2,202.6 L664.3,208.8 L666.3,212.3 L668.4,218.4 L670.7,222.3 L673.1,225.6 L675.4,228.9 L678.9,217.5 L682.4,216.6 L684.2,223.6 L686.8,221.8 L689.4,220.1 L692.9,211.4 L695.1,210.4 L697.3,210.5 L699.9,202.6 L702.1,210.7 L704.3,217.5 L706.5,215.1 L708.7,214.0 L712.2,224.5 L714.5,227.7 L716.9,231.0 L719.2,233.3 L722.7,229.8 L724.9,228.1 L727.1,228.0 L729.3,236.2 L731.5,244.7 L733.7,232.6 L735.9,221.9 L738.2,222.6 L740.6,223.8 L742.9,223.6 L745.1,225.5 L747.3,225.4 L749.9,231.5 L752.5,225.4 L755.2,221.0 L757.8,223.6 L759.8,226.5 L761.9,230.4 L763.9,233.3 L766.1,238.9 L768.3,242.9 L770.5,244.9 L772.7,246.4 L774.7,244.6 L776.8,243.7 L778.8,242.1 L782.4,255.2 L785.9,249.9 L788.5,249.5 L791.1,249.1 L793.8,241.2 L796.0,247.6 L798.1,254.3 L800.3,253.5 L802.5,253.5 L805.2,242.1 L807.4,250.6 L809.5,258.7 L813.0,257.0 L816.5,267.5 L819.2,260.5 L822.7,272.7 L824.9,272.9 L827.1,272.7 L830.6,292.9 L834.1,284.1 L836.7,282.3 L839.3,280.6 L842.8,297.3 L846.4,286.8 L848.5,291.0 L850.7,295.5 L853.4,290.1 L856.0,285.9 L859.5,293.8 L862.1,295.3 L864.8,297.3 L867.0,297.9 L869.1,297.2 L871.3,296.6 L873.5,297.3 L875.8,301.5 L878.2,304.6 L880.5,307.8 L882.7,305.6 L884.9,301.3 L887.1,297.7 L889.3,294.7 L891.5,294.0 L893.7,294.7 L897.2,287.6 L899.3,288.6 L901.4,289.5 L903.5,288.5 L905.7,293.3 L907.9,299.0 L910.1,300.0 L912.3,301.7 L914.9,306.1 L917.1,308.1 L919.3,309.6 L921.5,312.2 L923.7,315.7 L926.3,316.0 L928.9,316.6 L931.1,315.1 L933.3,313.9 L936.0,316.6 L938.6,319.2 L942.1,328.8 L944.4,329.9 L946.8,330.0 L949.1,330.6 L951.1,330.8 L953.2,329.8 L955.2,329.7 L957.3,333.7 L959.3,336.2 L961.4,341.1 L963.3,338.6 L965.2,338.0 L967.2,335.6 L969.1,334.4 L971.0,332.4 L973.2,331.8 L975.4,330.6 L977.6,328.6 L979.8,325.3 L982.4,324.4 L985.0,322.7 L987.6,325.0 L990.3,326.2 L992.5,324.8 L994.7,323.6 L997.3,323.7 L999.9,324.5 L1002.5,326.7 L1005.2,329.7 L1007.4,329.9 L1009.6,330.0 L1011.8,330.8 L1014.0,331.5 L1016.0,333.5 L1018.1,335.7 L1020.1,337.6 L1022.8,339.2 L1025.4,341.1 L1027.4,339.0 L1029.5,338.7 L1031.5,337.6 L1033.8,338.6 L1036.2,339.8 L1038.5,340.2 L1041.2,342.3 L1043.8,343.8 L1046.0,346.5 L1048.2,349.9 L1050.2,347.5 L1052.3,346.8 L1054.3,343.8 L1056.3,342.6 L1058.2,341.5 L1060.2,340.1 L1062.2,337.6 L1064.1,336.7 L1066.0,336.7 L1068.0,336.2 L1069.9,335.8 L1071.8,335.0 L1074.4,336.5 L1077.1,337.6 L1079.4,340.9 L1081.8,344.1 L1084.1,347.3 L1086.1,345.3 L1088.0,344.6 L1090.0,343.0 L1092.0,342.0 L1093.9,342.1 L1095.8,341.8 L1097.8,342.3 L1099.7,342.4 L1101.6,342.0 L1104.0,342.7 L1106.3,343.3 L1108.7,343.8 L1111.3,347.3 L1113.9,350.8 L1116.2,349.1 L1118.6,347.8 L1120.9,346.4 L1123.6,349.2 L1126.2,352.5 L1128.8,352.2 L1131.5,351.6 L1133.8,353.1 L1136.2,354.8 L1138.5,356.0 L1140.6,356.2 L1142.7,357.8 L1144.8,357.8 L1146.9,358.5 L1149.0,359.5 L1151.3,359.4 L1153.7,359.3 L1156.0,359.5 L1158.3,358.7 L1160.7,357.5 L1163.0,356.9 L1164.9,357.9 L1166.9,359.4 L1168.8,361.6 L1170.8,362.5 L1172.7,363.9 L1174.7,361.9 L1176.6,360.9 L1178.5,358.7 L1180.5,357.8 L1182.5,360.2 L1184.5,360.7 L1186.4,363.2 L1188.4,364.8 L1190.6,363.3 L1192.8,360.8 L1195.0,359.7 L1197.2,357.8 L1200.0,359.1 L1202.7,359.6 L1205.5,364.5 L1208.2,363.0 L1211.0,361.2 L1213.2,362.1 L1215.3,362.9 L1217.5,364.3 L1219.7,365.1 L1222.5,365.7 L1225.2,366.2 L1228.0,365.5 L1230.7,364.5 L1233.5,364.8 L1236.2,365.1 L1238.9,364.5 L1241.6,363.4 L1243.8,362.4 L1246.0,362.2 L1248.2,361.2 L1250.2,361.3 L1252.1,361.8 L1254.0,363.3 L1255.9,365.6 L1258.7,366.3 L1261.4,366.7 L1264.1,368.1 L1266.8,368.4 L1269.5,367.9 L1272.3,366.7 L1274.2,365.9 L1276.2,365.6 L1278.1,364.5 L1280.0,364.0 L1282.2,364.8 L1284.4,365.6 L1286.6,364.8 L1288.8,364.0 L1291.0,364.6 L1293.2,366.7 L1295.1,367.5 L1297.0,367.8 L1298.9,368.6 L1300.8,369.5 L1303.0,369.7 L1305.2,370.4 L1307.4,371.2 L1309.6,372.2 L1311.8,372.7 L1314.0,373.1 L1316.1,372.9 L1318.3,373.4 L1320.5,373.3 L1322.7,372.1 L1324.9,370.5 L1327.1,370.0 L1329.3,368.9 L1331.2,368.9 L1333.2,368.5 L1335.1,368.6 L1337.0,368.4 L1339.8,369.1 L1342.5,369.5 L1345.2,368.7 L1347.9,368.4 L1350.4,367.1 L1352.9,366.7 L1354.8,368.3 L1356.7,370.0 L1359.5,369.7 L1362.2,369.5 L1365.0,368.9 L1367.7,368.4 L1370.5,369.7 L1373.2,370.5 L1375.4,371.0 L1377.5,370.4 L1379.7,370.5 L1381.9,370.9 L1384.1,371.2 L1386.3,371.1 L1388.5,372.0 L1390.7,372.9 L1392.9,373.3 L1395.3,373.4 L1397.6,373.8 L1400.0,373.8 L1402.2,374.4 L1404.4,374.0 L1406.6,373.6 L1408.8,374.0 L1411.0,373.8 L1413.7,373.3 L1416.4,372.2 L1418.6,372.5 L1420.8,372.5 L1423.0,373.3 L1425.2,372.7 L1427.4,373.3 L1429.6,373.4 L1431.8,373.3 L1434.0,373.0 L1436.2,373.6 L1438.4,373.3 L1440.6,373.1 L1442.8,372.3 L1444.9,372.5 L1447.1,372.0 L1449.3,372.1 L1451.5,372.0 L1453.7,372.7 L1456.5,373.6 L1459.2,374.9 L1461.1,375.0 L1463.1,375.2 L1465.0,375.1 L1467.0,375.2 L1468.9,375.4 L1470.9,375.2 L1472.8,375.7 L1474.8,375.5 L1476.7,375.5 L1478.6,375.5 L1480.6,375.5 L1482.5,375.0 L1484.4,375.1 L1486.4,375.6 L1488.3,375.2 L1490.2,375.0 L1492.2,375.1 L1494.1,374.8 L1496.1,374.9 L1498.0,374.6 L1499.9,374.8 L1501.9,374.3 L1503.8,374.9 L1505.7,374.4 L1507.7,374.1 L1509.6,374.4 L1511.8,373.6 L1514.0,372.7 L1516.1,372.1 L1518.3,371.0 L1520.5,370.5 L1522.7,370.5 L1524.9,371.2 L1527.1,369.9 L1529.3,370.2 L1531.5,370.0 L1534.2,371.3 L1537.0,372.7 L1539.2,372.9 L1541.4,372.5 L1543.5,372.8 L1545.7,373.3 L1547.9,373.3 L1549.8,373.6 L1551.8,374.2 L1553.7,374.0 L1555.6,374.4 L1557.8,374.3 L1560.0,374.8 L1562.2,373.9 L1564.4,373.7 L1566.6,373.8 L1568.8,374.2 L1570.9,374.6 L1573.1,375.3 L1575.3,375.5 L1577.5,375.7 L1579.7,375.8 L1581.9,376.2 L1584.1,377.0 L1586.3,376.6 L1588.3,377.4 L1590.4,377.1 L1592.5,378.2 L1594.5,378.8"/>
<path class="c" stroke="#0000ff" d="M306.1,389.3 L308.2,386.9 L310.2,383.8 L312.3,381.5 L314.5,372.1 L316.7,362.2 L318.7,360.2 L320.8,357.3 L322.8,356.0 L326.3,349.9 L328.6,351.0 L331.0,351.0 L333.3,351.6 L335.3,351.3 L337.2,351.2 L339.2,349.8 L341.2,349.0 L344.7,355.2 L346.9,353.8 L349.1,353.4 L351.8,357.9 L354.4,363.0 L356.7,365.6 L359.1,366.4 L361.4,369.2 L363.4,371.1 L365.5,372.9 L367.5,374.4 L369.5,378.2 L371.6,383.3 L373.6,387.6 L376.2,389.2 L378.9,390.2 L380.9,389.5 L383.0,389.4 L385.0,389.3 L387.1,391.3 L389.1,392.2 L391.2,394.6 L393.8,401.6 L396.4,409.5 L398.6,412.0 L400.8,413.5 L403.0,414.7 L405.2,417.4 L405.6,420.5 L408.2,419.2 L410.8,417.9 L413.0,423.7 L415.2,427.5 L417.9,423.2 L420.5,420.5 L422.7,415.2 L424.9,409.1 L427.5,417.0 L429.7,418.7 L431.9,419.6 L434.5,432.8 L438.0,440.7 L440.7,438.1 L443.3,447.7 L445.9,458.2 L449.4,459.1 L452.9,469.6 L454.7,479.3 L456.9,480.5 L459.1,481.9 L461.7,481.9 L464.3,491.5 L467.8,496.8 L470.5,501.2 L472.2,517.0 L474.4,519.1 L476.6,520.5 L478.4,519.6 L481.0,532.7 L483.2,532.8 L485.4,533.6 L487.1,531.0 L490.6,538.0 L494.1,547.6 L496.3,541.8 L498.5,534.5 L500.7,533.6 L502.9,531.0 L506.4,537.1 L508.6,536.7 L510.8,537.1 L512.5,555.5 L515.2,573.1 L518.7,566.1 L521.3,566.9 L524.8,580.1 L528.3,592.4 L531.0,594.1 L533.6,613.4 L536.2,607.3 L538.8,615.2 L542.4,614.3 L545.0,627.4 L548.5,643.2 L550.7,645.3 L552.9,647.6 L555.5,651.6 L558.1,655.5 L560.3,653.8 L562.5,652.8 L565.1,658.3 L567.8,663.4 L570.4,652.0 L573.0,629.2 L574.8,626.5 L578.3,632.7 L580.9,629.2 L583.1,622.5 L585.3,616.9 L587.9,618.7 L590.6,609.9 L593.2,595.9 L595.8,611.6 L598.0,624.2 L600.2,636.2 L602.4,636.9 L604.6,637.9 L607.2,646.7 L609.9,643.6 L612.5,640.6 L616.0,643.2 L619.5,663.4 L621.7,657.9 L623.9,652.0 L626.1,648.5 L628.3,644.1 L630.9,640.1 L633.5,637.1 L636.1,641.4 L638.8,645.0 L642.3,628.3 L644.5,640.6 L646.7,652.0 L649.3,645.0 L652.0,643.6 L654.6,642.3 L656.8,646.2 L659.0,648.5 L660.0,648.5 L663.5,655.5 L667.0,666.9 L670.5,658.1 L672.6,658.0 L674.6,658.4 L676.7,659.0 L678.9,661.4 L681.0,663.4 L683.2,663.5 L685.4,664.2 L688.9,650.2 L691.6,643.2 L693.8,643.9 L695.9,643.2 L697.7,635.3 L701.2,647.6 L703.9,642.4 L706.5,637.1 L709.1,637.9 L710.8,650.2 L713.5,652.8 L715.5,651.1 L717.6,647.1 L719.6,645.0 L722.2,632.7 L725.8,603.8 L728.0,602.4 L730.1,602.0 L733.6,598.5 L736.3,584.5 L738.5,586.9 L740.7,588.0 L742.9,589.7 L745.0,592.4 L747.7,600.2 L751.2,613.4 L753.8,611.3 L756.4,608.1 L759.1,592.4 L761.3,592.0 L763.5,592.4 L765.2,588.8 L767.8,598.5 L771.3,590.6 L774.0,591.2 L776.6,591.5 L779.2,587.1 L781.9,591.6 L784.5,595.0 L787.1,581.0 L790.6,564.3 L792.8,558.6 L795.0,552.9 L797.6,552.0 L800.3,543.3 L802.5,538.3 L804.7,534.5 L808.2,541.5 L810.4,545.2 L812.5,549.4 L814.7,548.2 L816.9,545.9 L819.0,549.2 L821.0,552.7 L823.1,555.5 L825.7,552.9 L828.3,550.3 L831.0,542.4 L834.5,541.5 L836.5,544.7 L838.5,547.6 L840.4,550.2 L842.4,553.8 L844.5,547.1 L846.7,539.8 L849.4,540.3 L852.0,540.6 L854.6,538.3 L857.3,538.0 L859.9,529.2 L863.4,526.6 L866.9,510.8 L870.4,506.4 L873.0,500.3 L875.2,498.6 L877.4,496.8 L880.9,497.7 L882.7,503.8 L885.3,492.4 L887.4,490.9 L889.4,489.3 L891.5,486.3 L894.1,490.4 L896.7,495.9 L899.4,491.6 L902.0,487.2 L904.2,480.4 L906.4,473.1 L909.9,480.1 L911.9,481.9 L914.0,482.7 L916.0,484.5 L919.5,479.3 L921.3,466.1 L923.9,466.8 L926.5,467.0 L928.7,467.6 L930.9,468.7 L932.7,462.6 L934.7,460.5 L936.8,458.3 L938.8,456.5 L941.1,455.2 L943.5,453.4 L945.8,452.1 L949.3,456.5 L951.6,454.0 L954.0,451.2 L956.3,448.6 L958.1,452.9 L960.0,456.2 L962.6,455.4 L966.1,444.8 L968.8,447.0 L971.4,447.5 L973.6,447.0 L975.8,446.2 L978.0,446.0 L980.2,445.7 L983.7,439.6 L987.2,429.9 L990.7,438.7 L994.2,444.0 L996.4,441.1 L998.6,438.7 L1000.8,439.6 L1003.0,442.2 L1005.1,443.1 L1007.3,444.0 L1010.0,437.0 L1012.0,436.2 L1014.1,436.2 L1016.1,435.2 L1018.8,434.3 L1021.4,433.5 L1024.0,437.0 L1027.5,426.4 L1029.7,429.0 L1031.9,430.8 L1034.5,436.1 L1037.2,437.3 L1039.8,437.8 L1041.8,438.7 L1043.9,440.0 L1045.9,441.3 L1049.4,436.1 L1052.1,438.5 L1054.7,441.3 L1056.9,436.7 L1059.1,432.6 L1062.6,434.3 L1065.2,431.6 L1067.8,428.2 L1069.9,426.5 L1071.9,425.1 L1074.0,423.8 L1076.3,421.7 L1078.7,420.9 L1081.0,418.5 L1083.6,418.3 L1086.2,418.5 L1088.8,419.3 L1091.5,420.3 L1093.5,419.3 L1095.6,419.2 L1097.6,418.5 L1099.7,416.1 L1101.7,414.1 L1103.8,412.4 L1106.0,410.0 L1108.2,408.6 L1110.3,407.9 L1112.5,406.3 L1115.2,406.6 L1117.8,406.3 L1120.4,403.4 L1123.1,401.9 L1125.7,402.0 L1128.3,401.9 L1130.5,404.2 L1132.7,406.3 L1135.3,404.4 L1138.0,400.1 L1140.6,397.9 L1143.2,396.6 L1145.9,403.6 L1148.5,403.3 L1151.1,403.6 L1153.4,401.4 L1155.8,400.4 L1158.1,398.4 L1160.5,399.4 L1162.8,399.4 L1165.2,400.1 L1167.8,398.9 L1170.4,396.6 L1172.4,396.2 L1174.5,394.1 L1176.5,393.1 L1178.6,395.4 L1180.6,397.2 L1182.7,399.3 L1185.0,397.0 L1187.4,395.0 L1189.7,393.1 L1192.0,392.1 L1194.4,390.9 L1196.7,390.5 L1200.0,389.2 L1202.8,389.2 L1205.5,389.2 L1207.7,389.8 L1209.9,389.6 L1212.1,390.3 L1214.2,391.2 L1216.4,392.5 L1218.6,394.6 L1220.8,397.4 L1223.3,398.9 L1225.8,400.1 L1229.0,393.6 L1231.0,392.7 L1232.9,391.9 L1235.1,393.0 L1237.8,392.5 L1240.5,391.4 L1242.7,389.6 L1244.9,387.6 L1247.1,386.4 L1249.8,387.1 L1252.6,387.5 L1255.3,386.8 L1258.1,386.4 L1260.3,386.2 L1262.5,385.6 L1264.7,384.8 L1266.9,384.0 L1269.0,384.2 L1271.2,384.8 L1273.4,386.7 L1275.6,388.6 L1277.8,388.7 L1280.0,389.2 L1282.2,387.7 L1284.4,387.5 L1286.6,386.6 L1288.8,386.4 L1291.0,385.3 L1293.2,388.0 L1295.3,390.3 L1297.5,388.1 L1299.7,386.4 L1301.9,386.5 L1304.1,386.4 L1306.8,387.8 L1309.6,388.6 L1312.3,388.8 L1315.1,389.2 L1317.8,388.9 L1320.5,387.5 L1323.8,389.7 L1327.1,387.5 L1329.3,386.7 L1331.5,386.4 L1333.7,384.0 L1335.9,380.4 L1338.7,380.6 L1341.4,379.9 L1344.1,379.7 L1346.8,379.3 L1349.0,380.5 L1351.2,381.5 L1353.4,381.5 L1355.6,381.5 L1357.8,382.1 L1360.0,383.2 L1362.2,382.6 L1364.4,381.5 L1367.2,381.3 L1369.9,380.4 L1372.6,380.1 L1375.3,379.3 L1378.0,379.9 L1380.8,380.4 L1383.5,380.7 L1386.3,381.0 L1389.0,381.8 L1391.8,383.2 L1393.8,382.7 L1395.9,382.3 L1398.0,382.5 L1400.0,382.1 L1402.8,382.4 L1405.5,383.2 L1408.2,382.9 L1411.0,382.1 L1413.2,381.4 L1415.3,381.4 L1417.5,380.9 L1419.7,379.9 L1422.5,381.4 L1425.2,382.1 L1427.4,381.8 L1429.6,380.9 L1431.8,380.4 L1434.5,381.2 L1437.3,382.1 L1440.0,382.7 L1442.7,383.7 L1445.5,382.4 L1448.2,381.0 L1451.0,382.2 L1453.7,382.6 L1455.9,381.8 L1458.1,382.2 L1460.3,381.0 L1463.0,381.4 L1465.8,382.1 L1468.0,381.4 L1470.2,381.3 L1472.3,381.1 L1474.5,380.4 L1476.4,380.7 L1478.3,381.0 L1480.3,382.1 L1482.2,382.1 L1484.1,381.5 L1486.1,381.8 L1488.0,381.3 L1489.9,381.0 L1492.1,381.2 L1494.2,381.6 L1496.4,381.6 L1498.6,382.1 L1500.8,381.3 L1503.0,381.1 L1505.2,380.2 L1507.4,379.7 L1509.6,379.3 L1511.8,379.2 L1514.0,378.9 L1516.1,378.3 L1518.3,377.8 L1520.5,377.1 L1522.6,377.2 L1524.6,377.4 L1526.7,377.3 L1528.8,377.0 L1530.8,377.8 L1532.9,378.0 L1534.9,378.3 L1537.0,378.2 L1538.9,378.5 L1540.8,379.6 L1542.8,379.7 L1544.7,380.4 L1546.6,380.5 L1548.5,381.2 L1550.4,381.9 L1552.3,382.1 L1554.3,381.9 L1556.3,381.8 L1558.3,381.3 L1560.4,381.5 L1562.4,381.4 L1564.4,381.0 L1566.6,380.4 L1568.8,380.2 L1570.9,379.4 L1573.1,379.3 L1575.3,378.8 L1577.5,378.2 L1579.7,378.4 L1581.9,378.1 L1584.1,377.7 L1586.3,377.7 L1588.3,377.5 L1590.4,376.9 L1592.5,376.9 L1594.5,376.6"/>
<path class="c" stroke="#008000" d="M306.1,383.2 L308.0,380.9 L309.9,379.4 L311.8,377.7 L313.7,376.5 L315.6,375.9 L317.5,373.6 L319.6,371.6 L321.7,371.6 L323.9,370.5 L326.0,368.5 L328.1,367.4 L330.3,366.6 L332.5,366.8 L334.6,366.7 L336.8,365.7 L339.1,368.8 L341.5,370.2 L343.8,371.8 L346.5,376.5 L349.1,379.7 L352.6,377.1 L355.2,381.2 L357.9,385.8 L360.5,383.2 L363.1,381.5 L365.3,373.6 L367.5,367.4 L369.7,362.9 L371.9,359.5 L375.4,372.7 L377.7,370.8 L380.1,369.3 L382.4,367.4 L384.7,365.9 L387.1,366.1 L389.4,364.8 L391.5,367.7 L393.5,370.3 L395.6,373.6 L397.8,367.5 L399.9,362.2 L403.5,359.5 L405.6,364.0 L407.8,366.5 L411.3,363.9 L413.5,367.9 L415.7,371.8 L417.8,372.4 L419.9,373.4 L422.0,375.9 L424.1,375.8 L426.2,377.1 L428.4,372.0 L430.6,365.7 L432.6,366.8 L434.6,365.4 L436.5,367.7 L438.5,367.4 L442.0,363.0 L444.6,357.2 L447.3,351.6 L449.5,349.3 L451.7,348.1 L455.2,356.9 L457.2,357.3 L459.1,358.5 L461.1,359.0 L463.1,359.5 L465.4,361.8 L467.8,363.3 L470.1,365.7 L472.7,372.0 L475.3,377.1 L478.0,370.8 L480.6,363.0 L482.6,361.7 L484.6,359.2 L486.5,357.4 L488.5,354.3 L490.8,358.8 L493.2,361.7 L495.5,364.8 L498.1,362.2 L500.8,358.7 L502.7,359.4 L504.6,359.8 L506.5,360.4 L508.4,359.6 L510.3,360.7 L512.2,361.3 L514.8,353.2 L517.4,344.6 L520.0,340.9 L522.7,339.4 L524.9,344.8 L527.1,351.6 L529.7,346.7 L532.3,340.2 L534.5,334.4 L536.7,329.7 L540.2,336.7 L542.9,332.1 L545.5,328.0 L548.1,330.8 L550.7,333.2 L553.4,334.7 L556.0,336.7 L558.3,345.6 L560.7,355.2 L563.0,364.8 L566.5,365.7 L568.7,360.2 L570.9,355.2 L572.9,350.8 L575.0,347.1 L577.0,342.9 L579.6,345.5 L582.3,346.4 L585.0,337.4 L587.6,328.0 L590.2,332.3 L592.8,335.0 L595.0,339.5 L597.2,343.7 L599.4,347.7 L601.6,351.6 L604.4,348.1 L607.0,346.2 L609.6,344.6 L611.8,351.9 L614.0,358.7 L616.6,354.9 L619.3,350.8 L622.8,363.9 L625.5,362.5 L628.1,362.2 L631.6,369.2 L635.1,355.2 L638.6,354.3 L640.8,358.2 L643.0,361.3 L646.5,349.0 L648.6,350.6 L650.8,351.6 L653.5,354.4 L656.1,356.9 L657.9,367.4 L661.4,360.4 L663.7,359.6 L666.1,357.9 L668.4,358.7 L670.4,358.8 L672.3,357.3 L674.3,355.6 L676.3,356.0 L679.8,342.9 L682.0,341.5 L684.2,339.4 L686.5,340.8 L688.9,343.2 L691.2,344.6 L693.4,345.4 L695.5,346.9 L697.7,347.3 L699.9,348.1 L701.9,348.7 L703.8,349.1 L705.8,350.1 L707.8,349.9 L710.0,353.7 L712.2,358.7 L714.5,361.6 L716.9,363.7 L719.2,365.7 L721.4,368.9 L723.6,372.7 L727.1,364.8 L729.4,364.2 L731.8,363.4 L734.1,363.0 L736.3,360.4 L738.5,357.8 L742.0,335.0 L744.1,333.1 L746.1,330.0 L748.2,328.0 L750.4,333.2 L752.5,337.6 L754.6,338.4 L756.6,338.5 L758.7,338.5 L762.2,346.4 L764.2,349.8 L766.3,351.6 L768.3,354.3 L770.6,356.7 L773.0,359.6 L775.3,360.4 L778.0,355.2 L780.2,359.1 L782.4,363.0 L784.5,361.6 L786.7,360.4 L788.9,362.6 L791.1,364.8 L793.3,356.3 L795.5,347.3 L798.1,349.6 L800.8,352.5 L802.8,346.8 L804.9,340.6 L806.9,335.9 L808.9,338.0 L811.0,340.7 L813.0,343.8 L816.5,359.5 L818.6,361.6 L820.6,364.5 L822.7,367.4 L824.9,363.4 L827.1,358.7 L829.7,356.8 L832.3,355.2 L835.0,363.9 L837.0,361.2 L839.1,360.0 L841.1,357.8 L843.1,353.8 L845.2,348.9 L847.2,345.5 L850.7,349.9 L853.4,363.9 L856.9,361.3 L859.1,356.1 L861.3,350.8 L864.8,349.9 L868.3,357.8 L870.9,357.7 L873.5,358.7 L875.7,353.1 L877.9,348.1 L880.1,352.6 L882.3,357.8 L885.8,364.8 L889.3,354.3 L892.8,363.9 L895.5,363.9 L898.1,363.0 L900.2,364.1 L902.3,365.8 L904.4,367.4 L906.6,364.0 L908.8,360.4 L910.5,352.5 L912.7,351.7 L914.9,349.9 L917.1,352.7 L919.3,354.3 L921.5,355.1 L923.7,357.5 L925.9,358.3 L928.1,359.5 L930.2,360.1 L932.4,359.5 L934.6,364.4 L936.8,368.3 L938.9,366.6 L940.9,365.4 L943.0,363.9 L945.0,364.6 L947.1,365.8 L949.1,366.5 L952.6,358.7 L954.8,361.3 L957.0,362.2 L959.0,364.3 L961.1,365.9 L963.1,368.3 L965.8,369.1 L968.4,367.4 L970.6,365.6 L972.8,364.8 L975.0,368.8 L977.2,372.7 L979.8,373.1 L982.4,373.6 L984.6,369.4 L986.8,366.5 L989.0,366.5 L991.2,365.7 L994.7,361.3 L996.9,364.4 L999.1,366.5 L1001.2,366.6 L1003.3,366.9 L1005.4,367.0 L1007.5,366.4 L1009.6,367.4 L1011.8,369.7 L1014.0,371.8 L1016.3,371.8 L1018.7,372.5 L1021.0,373.6 L1023.3,372.6 L1025.7,371.7 L1028.0,370.1 L1030.7,370.5 L1033.3,371.8 L1035.6,370.0 L1038.0,368.0 L1040.3,364.8 L1042.5,366.6 L1044.7,368.3 L1046.8,364.8 L1049.0,361.3 L1051.1,362.6 L1053.1,363.4 L1055.2,364.8 L1058.7,361.3 L1061.3,364.4 L1063.9,368.3 L1066.1,366.8 L1068.3,364.8 L1070.9,368.6 L1073.6,371.8 L1075.9,372.2 L1078.3,372.8 L1080.6,373.6 L1083.2,371.1 L1085.9,369.2 L1088.1,369.5 L1090.2,370.1 L1092.4,370.5 L1094.6,371.8 L1097.2,371.3 L1099.9,370.1 L1103.4,365.7 L1106.1,367.3 L1108.7,369.2 L1112.2,374.4 L1114.4,373.4 L1116.6,373.0 L1118.7,371.0 L1120.9,370.1 L1123.6,372.5 L1126.2,374.4 L1128.4,373.8 L1130.6,374.1 L1132.8,374.7 L1135.0,374.4 L1137.0,371.4 L1139.1,368.0 L1141.1,365.7 L1143.1,365.4 L1145.2,366.4 L1147.2,366.5 L1149.8,364.8 L1152.5,363.9 L1154.8,363.9 L1157.2,363.4 L1159.5,363.0 L1161.5,366.1 L1163.6,369.4 L1165.6,372.7 L1168.2,370.8 L1170.9,368.3 L1172.9,369.0 L1174.8,369.2 L1176.8,370.4 L1178.8,370.9 L1180.8,371.9 L1182.9,373.1 L1184.9,374.4 L1187.1,372.9 L1189.3,370.9 L1191.3,373.2 L1193.2,375.7 L1195.2,377.4 L1197.2,379.7 L1199.6,377.0 L1202.0,374.6 L1204.4,372.2 L1206.6,371.8 L1208.8,370.8 L1211.0,370.5 L1213.7,370.9 L1216.4,371.6 L1219.2,370.5 L1221.9,370.0 L1224.1,370.5 L1226.3,371.6 L1228.5,372.9 L1230.7,374.4 L1233.5,374.1 L1236.2,372.2 L1238.9,372.9 L1241.6,373.8 L1244.3,373.3 L1247.1,372.7 L1249.8,371.6 L1252.6,370.5 L1255.3,371.3 L1258.1,372.2 L1260.0,372.5 L1261.9,373.4 L1263.9,372.9 L1265.8,373.3 L1268.0,373.4 L1270.1,372.8 L1272.3,372.2 L1274.5,371.4 L1276.7,370.9 L1278.9,370.5 L1281.7,371.2 L1284.4,372.2 L1287.2,371.0 L1289.9,370.5 L1292.1,371.0 L1294.2,371.0 L1296.4,371.1 L1298.6,371.8 L1300.8,372.2 L1303.0,369.4 L1305.2,367.3 L1308.5,366.2 L1311.2,367.1 L1314.0,367.8 L1316.2,367.9 L1318.4,368.4 L1321.1,369.6 L1323.8,369.5 L1326.5,370.8 L1329.3,372.2 L1331.2,372.4 L1333.2,372.6 L1335.1,372.4 L1337.0,372.7 L1339.2,372.6 L1341.4,372.6 L1343.5,372.9 L1345.7,372.5 L1347.9,372.7 L1350.7,373.2 L1353.4,373.8 L1355.6,373.5 L1357.8,373.0 L1360.0,372.7 L1362.0,372.5 L1364.0,372.8 L1365.9,373.2 L1367.9,373.3 L1369.9,373.8 L1372.1,374.1 L1374.3,373.8 L1376.4,373.8 L1378.6,373.5 L1380.8,373.8 L1383.5,373.9 L1386.3,373.8 L1388.5,373.2 L1390.7,372.5 L1392.9,372.2 L1395.3,372.2 L1397.6,373.2 L1400.0,372.7 L1402.2,372.3 L1404.4,372.2 L1406.6,372.5 L1408.8,373.6 L1411.0,373.8 L1413.2,374.6 L1415.4,374.8 L1417.5,375.8 L1419.7,375.7 L1421.9,376.6 L1424.0,376.8 L1426.0,376.8 L1428.1,378.0 L1430.2,378.0 L1432.2,379.0 L1434.3,378.7 L1436.3,379.1 L1438.4,379.3 L1440.6,379.2 L1442.8,379.4 L1444.9,379.8 L1447.1,380.4 L1449.3,380.4 L1451.3,379.8 L1453.3,379.1 L1455.2,379.6 L1457.2,379.3 L1459.2,378.8 L1461.4,377.3 L1463.6,376.3 L1465.8,374.9 L1468.0,374.1 L1470.1,373.0 L1472.3,371.6 L1474.3,371.0 L1476.3,371.2 L1478.2,370.7 L1480.2,370.9 L1482.2,370.5 L1484.4,370.7 L1486.6,370.6 L1488.8,371.2 L1491.0,371.5 L1493.2,371.6 L1495.4,371.2 L1497.6,371.2 L1499.7,371.4 L1501.9,371.5 L1504.1,371.6 L1506.8,372.0 L1509.6,372.7 L1512.3,371.7 L1515.1,371.6 L1517.3,371.4 L1519.5,372.0 L1521.6,372.3 L1523.8,372.2 L1526.0,372.7 L1528.2,373.5 L1530.4,374.7 L1532.6,375.0 L1534.8,375.7 L1537.0,376.6 L1539.2,376.6 L1541.4,377.1 L1543.5,377.3 L1545.7,377.5 L1547.9,377.7 L1550.1,376.9 L1552.3,376.5 L1554.5,375.8 L1556.7,375.0 L1558.9,374.4 L1561.1,374.5 L1563.3,373.8 L1565.5,374.2 L1567.7,373.9 L1569.9,373.8 L1572.1,373.5 L1574.2,373.3 L1576.4,372.4 L1578.6,372.0 L1580.6,372.1 L1582.6,372.3 L1584.5,372.7 L1586.5,372.9 L1588.5,372.7 L1590.5,373.1 L1592.5,373.6 L1594.5,373.8"/>
<line x1="306.5" y1="376.5" x2="1594.5" y2="376.5" stroke="#000" stroke-width="3.9"/>
<text y="80.2" style="font-size:81.5px"><tspan x="183.1" y="80.2" font-family="NanumGothic" style="font-size:74px" stroke="#000" stroke-width="1.3">1</tspan><tspan x="226.6" y="80.2">0</tspan></text>
<text x="226.6" y="402.3" style="font-size:81.5px">0</text>
<text y="724.5" style="font-size:81.5px"><tspan x="138.5" y="721.9" style="font-size:77px" stroke="#000" stroke-width="1.8">–</tspan><tspan x="183.1" y="724.5" font-family="NanumGothic" style="font-size:74px" stroke="#000" stroke-width="1.3">1</tspan><tspan x="226.6" y="724.5">0</tspan></text>
<text y="1046.7" style="font-size:81.5px"><tspan x="138.5" y="1044.1" style="font-size:77px" stroke="#000" stroke-width="1.8">–</tspan><tspan x="181.3" y="1046.7">2</tspan><tspan x="226.6">0</tspan></text>
<text y="939.3" style="font-size:81.5px"><tspan x="1631.3" y="939.3" font-family="NanumGothic" style="font-size:74px" stroke="#000" stroke-width="1.3">1</tspan></text>
<text x="1630.0" y="1360.6" style="font-size:81.5px">0</text>
<text x="306.8" y="1434.3" text-anchor="middle" style="font-size:81.5px;letter-spacing:-0.5px">450</text>
<text x="490.8" y="1434.3" text-anchor="middle" style="font-size:81.5px;letter-spacing:-0.5px">500</text>
<text x="858.8" y="1434.3" text-anchor="middle" style="font-size:81.5px;letter-spacing:-0.5px">600</text>
<text x="1226.8" y="1434.3" text-anchor="middle" style="font-size:81.5px;letter-spacing:-0.5px">700</text>
<text x="1594.8" y="1434.3" text-anchor="middle" style="font-size:81.5px;letter-spacing:-0.5px">800</text>
<text x="985.2" y="1536.5" text-anchor="middle" style="font-size:80.5px">Wavelength (nm)</text>
<text transform="translate(77,919.3) rotate(-90)" x="0" y="0" style="font-size:80.5px">CPL intensity <tspan font-style="italic" dx="5.4">I</tspan><tspan font-size="55" dy="5.6" dx="-4.9">L</tspan><tspan dy="-7.8999999999999995" dx="-1.2"> – </tspan><tspan font-style="italic" dy="2.3" dx="6.2">I</tspan><tspan font-size="55" dy="5.6" dx="-6">R</tspan><tspan dy="-5.6"> (a.u.)</tspan></text>
<text transform="translate(1789.6,1370.5) rotate(-90)" x="0" y="0" style="font-size:80.5px">Normalized PL intensity (a.u.)</text>
</g>
</svg>
</body>
</html>
